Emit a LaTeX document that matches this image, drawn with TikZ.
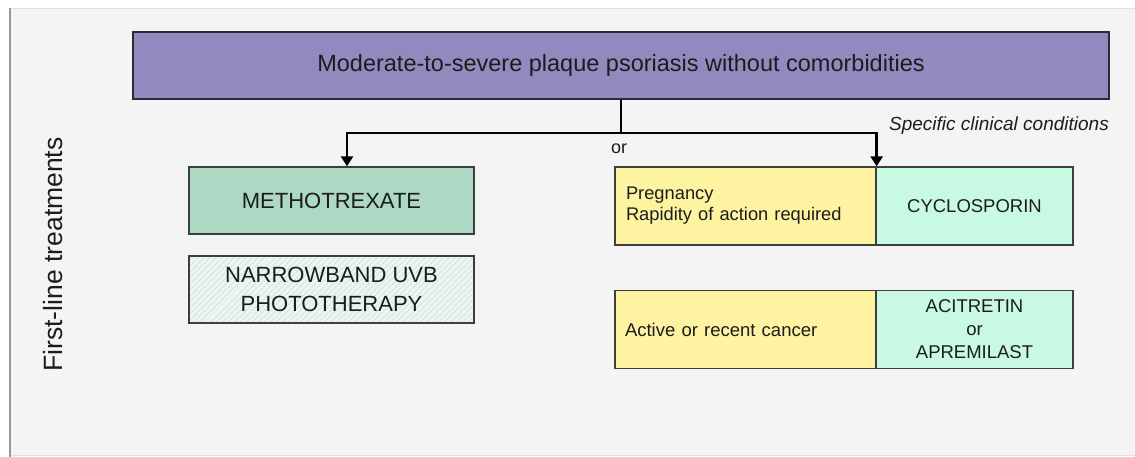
\documentclass[tikz,border=0pt]{standalone}
\usepackage{fontspec}
\setmainfont{Liberation Sans}
\usetikzlibrary{arrows.meta,patterns.meta}

\definecolor{panelbg}{HTML}{F4F4F4}
\definecolor{purplebox}{HTML}{918ABE}
\definecolor{mtxgreen}{HTML}{ADD9C4}
\definecolor{uvbbase}{HTML}{EDF5F1}
\definecolor{uvbline}{HTML}{C9E4D8}
\definecolor{condyellow}{HTML}{FDF3A0}
\definecolor{drugmint}{HTML}{C7F9E3}
\definecolor{ink}{HTML}{1C1C1C}
\definecolor{edge}{HTML}{3E3E3E}

\tikzset{
  box/.style={draw=edge, line width=1.3pt, inner sep=0pt, align=center, text=ink},
  link/.style={line width=2.8pt, draw=black},
  linkarrow/.style={link, -{Triangle[width=12pt,length=10pt]}},
  note/.style={inner sep=0pt, text=ink}
}

\begin{document}
\begin{tikzpicture}[x=1pt,y=-1pt]
  % page frame
  \useasboundingbox (0,0) rectangle (1135,457);
  \fill[white] (0,0) rectangle (1135,457);
  \fill[panelbg] (10,8) rectangle (1135,455);
  \draw[line width=0.8pt, black!12] (10,8) -- (1135,8);
  \draw[line width=0.8pt, black!12] (10,455.5) -- (1135,455.5);
  \draw[line width=1.2pt, black!40] (10,8) -- (10,457);

  % side label
  \node[note, rotate=90, font=\fontsize{26.5}{30}\selectfont] (side) at (53,254.5) {First-line treatments};

  % top condition
  \node[box, fill=purplebox, draw=black!70!purplebox, minimum width=976pt, minimum height=67pt,
        font=\fontsize{23.5}{28}\selectfont] (top) at (621,65.5)
        {Moderate-to-severe plaque psoriasis without comorbidities};

  % left column
  \node[box, fill=mtxgreen, minimum width=285pt, minimum height=67pt,
        font=\fontsize{22}{26}\selectfont] (mtx) at (331.5,200.5) {METHOTREXATE};
  % hatched background of the phototherapy box
  \fill[uvbbase] (189,256) rectangle (474,323);
  \fill[pattern={Lines[angle=45,distance=4pt,line width=0.9pt]}, pattern color=uvbline]
       (189,256) rectangle (474,323);
  \node[box, minimum width=285pt, minimum height=67pt,
        font=\fontsize{22}{29}\selectfont] (uvb) at (331.5,289.5) {NARROWBAND UVB\\PHOTOTHERAPY};

  % right column: conditions and their drugs
  \node[box, fill=condyellow, minimum width=261pt, minimum height=78pt, text width=239pt,
        align=left, font=\fontsize{18.3}{21}\selectfont] (preg) at (745.5,206)
        {Pregnancy\\Rapidity of action required};
  \node[box, fill=drugmint, minimum width=197pt, minimum height=78pt,
        font=\fontsize{18.5}{22}\selectfont] (cyc) at (974.5,206) {CYCLOSPORIN};
  \node[box, fill=condyellow, minimum width=261pt, minimum height=78pt, text width=241pt,
        align=left, font=\fontsize{18.5}{22}\selectfont] (act) at (745.5,329.5)
        {Active or recent cancer};
  \node[box, fill=drugmint, minimum width=197pt, minimum height=78pt,
        font=\fontsize{18.5}{23}\selectfont] (aci) at (974.5,329.5) {ACITRETIN\\or\\APREMILAST};

  % annotations
  \node[note, font=\fontsize{18}{20}\selectfont] (orlabel) at (619,149) {or};
  \node[note, font=\itshape\fontsize{19}{22}\selectfont] (spec) at (999,126) {Specific clinical conditions};

  % connectors
  \coordinate (hub) at (621,133);
  \draw[link] (top.south) -- (hub);
  \draw[linkarrow] (hub) -| ([xshift=15.5pt]mtx.north);
  \draw[linkarrow] (hub) -| (preg.north east);
\end{tikzpicture}
\end{document}
